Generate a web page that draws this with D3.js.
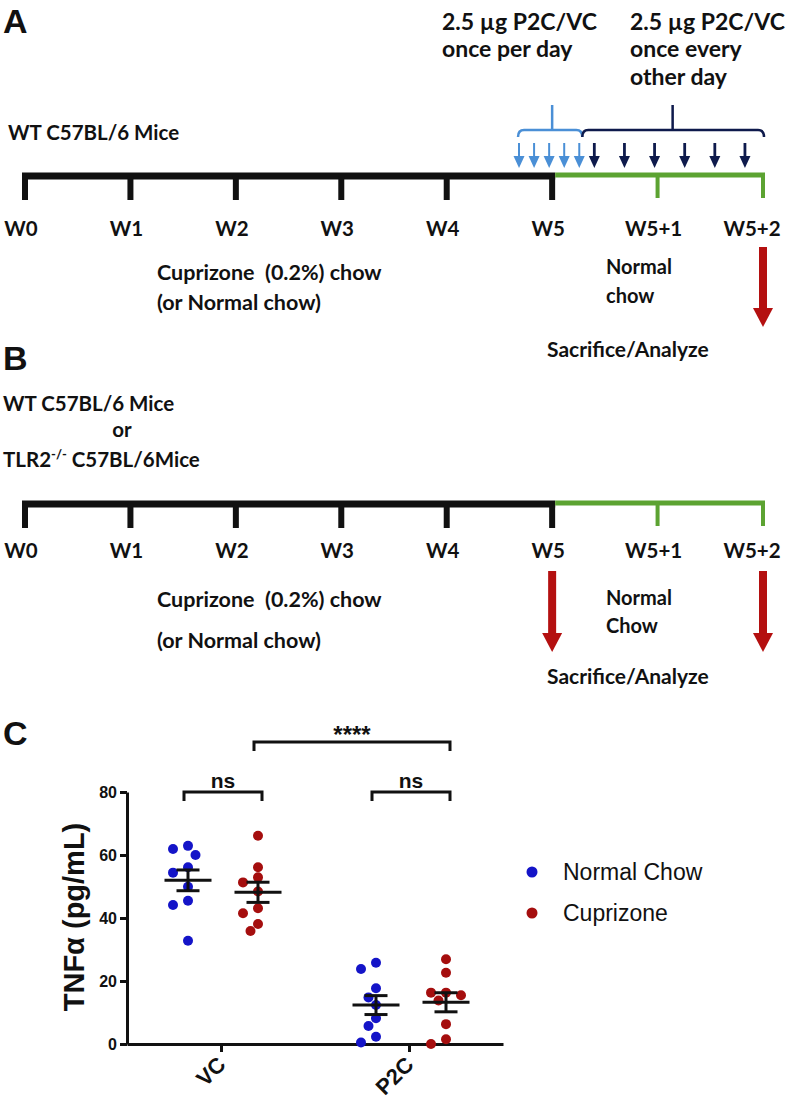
<!DOCTYPE html>
<html>
<head>
<meta charset="utf-8">
<script src="https://cdn.jsdelivr.net/npm/d3@7"></script>
<style>
  body { margin: 0; background: #fff; }
  svg { display: block; }
  .cal { font-family: Lato, "Open Sans", sans-serif; font-weight: bold; fill: #111; white-space: pre; }
  .arl { font-family: "Liberation Sans", Arial, sans-serif; fill: #111; }
</style>
</head>
<body>
<script>
// timeline (panels A and B)
var weeks = [0, 1, 2, 3, 4, 5, 6, 7];
var weekLabels = ["W0", "W1", "W2", "W3", "W4", "W5", "W5+1", "W5+2"];
var dailyDoseDays = [33, 34, 35, 36, 37];
var altDoseDays = [38, 40, 42, 44, 46, 48];

// TNFa scatter (panel C)
var groups = ["VC", "P2C"];
var seriesNames = ["Normal Chow", "Cuprizone"];
var vcNormal = [62.9, 61.9, 60.0, 56.1, 54.4, 49.9, 45.5, 44.1, 32.8];
var vcCuprizone = [66.1, 56.1, 52.9, 51.3, 48.4, 43.1, 41.5, 38.1, 35.9];
var p2cNormal = [25.8, 23.8, 17.7, 14.8, 12.4, 8.2, 5.7, 2.3, 0.5];
var p2cCuprizone = [26.9, 22.6, 16.3, 16.3, 15.5, 13.8, 6.3, 1.5, 0.0];
var yTicks = [0, 20, 40, 60, 80];

var colors = {"Normal Chow": "#1414c8", "Cuprizone": "#a50e0e"};
var W = 787, H = 1104;

var svg = d3.select("body").append("svg")
            .attr("width", W)
            .attr("height", H);

var wx = d3.scaleLinear().domain([0, 7]).range([25, 763]);
var dx = function(day) { return wx(day / 7); };

function redArrow(g, x, y1, y2) {
  g.append("rect")
   .attr("x", x - 4).attr("y", y1)
   .attr("width", 8).attr("height", y2 - y1 - 18)
   .attr("fill", "#b41010");
  g.append("path")
   .attr("d", "M" + (x - 10) + "," + (y2 - 19) + " L" + (x + 10) + "," + (y2 - 19) + " L" + x + "," + y2 + " Z")
   .attr("fill", "#b41010");
}

function timeline(g, lineY, labelY) {
  // black part
  g.append("line")
   .attr("x1", wx(0) - 3).attr("x2", wx(5) + 3)
   .attr("y1", lineY).attr("y2", lineY)
   .attr("stroke", "#111").attr("stroke-width", 7);
  g.selectAll("line.bt")
   .data(weeks.filter(function(d) { return d <= 5; }))
   .enter().append("line")
   .attr("class", "bt")
   .attr("x1", function(d) { return wx(d); })
   .attr("x2", function(d) { return wx(d); })
   .attr("y1", lineY).attr("y2", lineY + 24)
   .attr("stroke", "#111").attr("stroke-width", 6);
  // green part
  g.append("line")
   .attr("x1", wx(5) + 3).attr("x2", wx(7) + 2)
   .attr("y1", lineY - 1).attr("y2", lineY - 1)
   .attr("stroke", "#5ca332").attr("stroke-width", 5);
  g.selectAll("line.gt")
   .data(weeks.filter(function(d) { return d > 5; }))
   .enter().append("line")
   .attr("class", "gt")
   .attr("x1", function(d) { return wx(d); })
   .attr("x2", function(d) { return wx(d); })
   .attr("y1", lineY - 3).attr("y2", lineY + 22)
   .attr("stroke", "#5ca332").attr("stroke-width", 4);
  g.selectAll("text.wk")
   .data(weeks)
   .enter().append("text")
   .attr("class", "wk cal")
   .attr("x", function(d) { return Math.min(wx(d) - 4, 752); })
   .attr("y", labelY)
   .attr("text-anchor", "middle")
   .style("font-size", "20.5px")
   .text(function(d, i) { return weekLabels[i]; });
}

function label(g, x, y, txt, size, anchor) {
  return g.append("text")
          .attr("class", "cal")
          .attr("x", x).attr("y", y)
          .attr("text-anchor", anchor || "start")
          .style("font-size", size + "px")
          .text(txt);
}

// ---------- panel A ----------
var gA = svg.append("g");
gA.append("text").attr("class", "arl").attr("x", 3).attr("y", 33)
  .style("font-size", "34px").style("font-weight", "bold").text("A");
label(gA, 442, 30, "2.5 \u00b5g P2C/VC", 23);
label(gA, 442, 57, "once per day", 23);
label(gA, 630, 30, "2.5 \u00b5g P2C/VC", 23);
label(gA, 630, 57, "once every", 23);
label(gA, 630, 85, "other day", 23);
label(gA, 8, 140, "WT C57BL/6 Mice", 20.5);

function brace(g, x1, x2, xm, y, color) {
  g.append("path")
   .attr("d", "M" + x1 + "," + (y + 7) + " Q" + x1 + "," + y + " " + (x1 + 6) + "," + y +
              " L" + (x2 - 6) + "," + y + " Q" + x2 + "," + y + " " + x2 + "," + (y + 7) +
              " M" + xm + "," + y + " L" + xm + "," + (y - 25))
   .attr("fill", "none").attr("stroke", color).attr("stroke-width", 2.5);
}
brace(gA, dx(33) - 4, dx(37), dx(35), 130, "#4a8fd6");
brace(gA, dx(37), dx(49) + 1, dx(43), 130, "#0e1a4c");

function doseArrows(g, days, color, cls, w) {
  var a = g.selectAll("g." + cls)
           .data(days)
           .enter().append("g")
           .attr("class", cls)
           .attr("transform", function(d) { return "translate(" + (dx(d) - 3) + ",0)"; });
  a.append("line")
   .attr("x1", 0).attr("x2", 0).attr("y1", 143).attr("y2", 160)
   .attr("stroke", color).attr("stroke-width", w);
  a.append("path")
   .attr("d", "M-5.5,156 L5.5,156 L0,168 Z")
   .attr("fill", color);
}
doseArrows(gA, dailyDoseDays, "#4a8fd6", "da", 2);
doseArrows(gA, altDoseDays, "#0e1a4c", "aa", 2.8);

timeline(gA, 176, 236);
label(gA, 157, 280, "Cuprizone  (0.2%) chow", 21.5);
label(gA, 157, 310, "(or Normal chow)", 21.5);
label(gA, 606, 274, "Normal", 20);
label(gA, 606, 303, "chow", 20);
redArrow(gA, wx(7), 247, 327);
label(gA, 547, 357, "Sacrifice/Analyze", 21);

// ---------- panel B ----------
var gB = svg.append("g");
gB.append("text").attr("class", "arl").attr("x", 3).attr("y", 370)
  .style("font-size", "34px").style("font-weight", "bold").text("B");
label(gB, 3, 411, "WT C57BL/6 Mice", 20.5);
label(gB, 122, 437, "or", 20.5, "middle");
var tl = label(gB, 3, 467, "TLR2", 20.5);
tl.append("tspan").attr("dy", -8).style("font-size", "13px").text("-/-");
tl.append("tspan").attr("dy", 8).text(" C57BL/6Mice");

timeline(gB, 504, 558);
label(gB, 157, 607, "Cuprizone  (0.2%) chow", 21.5);
label(gB, 157, 648, "(or Normal chow)", 21.5);
label(gB, 606, 605, "Normal", 20);
label(gB, 606, 633, "Chow", 20);
redArrow(gB, wx(5), 571, 652);
redArrow(gB, wx(7), 571, 652);
label(gB, 547, 684, "Sacrifice/Analyze", 21);

// ---------- panel C ----------
var gC = svg.append("g");
gC.append("text").attr("class", "arl").attr("x", 3).attr("y", 745)
  .style("font-size", "34px").style("font-weight", "bold").text("C");

var y = d3.scaleLinear().domain([0, 80]).range([1044, 792]);
var x = d3.scalePoint().domain(groups).range([127, 503]).padding(0.5);
var xs = d3.scalePoint().domain(seriesNames).range([-33, 37]);

var yAxis = gC.append("g")
              .attr("transform", "translate(127,0)")
              .call(d3.axisLeft(y).tickValues(yTicks).tickSize(7).tickSizeOuter(0).tickPadding(3));
var xAxis = gC.append("g")
              .attr("transform", "translate(0,1044)")
              .call(d3.axisBottom(x).tickSize(8).tickSizeOuter(0).tickFormat(""));
[yAxis, xAxis].forEach(function(a) {
  a.select(".domain").attr("stroke", "#111").attr("stroke-width", 3);
  a.selectAll(".tick line").attr("stroke", "#111").attr("stroke-width", 3);
});
yAxis.selectAll(".tick text")
     .attr("class", "arl")
     .style("font-size", "16px").style("font-weight", "bold");

gC.selectAll("text.xl")
  .data(groups)
  .enter().append("text")
  .attr("class", "xl arl")
  .attr("text-anchor", "end")
  .attr("transform", function(d) { return "translate(" + (x(d) + 6) + ",1066) rotate(-45)"; })
  .style("font-size", "22px")
  .style("font-weight", "bold")
  .text(function(d) { return d; });

gC.append("text")
  .attr("class", "arl")
  .attr("transform", "translate(84,917) rotate(-90)")
  .attr("text-anchor", "middle")
  .style("font-size", "29px")
  .style("font-weight", "bold")
  .text("TNF\u03b1 (pg/mL)");

var sets = [
  {group: "VC", series: "Normal Chow", values: vcNormal},
  {group: "VC", series: "Cuprizone", values: vcCuprizone},
  {group: "P2C", series: "Normal Chow", values: p2cNormal},
  {group: "P2C", series: "Cuprizone", values: p2cCuprizone}
];

// simple beeswarm so points don't sit on each other
function swarm(vals, cx) {
  var placed = [], step = 7.5, minD = 10;
  var order = vals.map(function(v, i) { return i; })
                  .sort(function(a, b) { return vals[b] - vals[a]; });
  var out = [];
  order.forEach(function(i) {
    var py = y(vals[i]);
    for (var k = 0; k < 20; k++) {
      var off = (k == 0) ? 0 : ((k % 2) ? -1 : 1) * Math.ceil(k / 2) * step;
      var ok = placed.every(function(p) {
        return Math.hypot(p.x - (cx + off), p.y - py) >= minD;
      });
      if (ok) { placed.push({x: cx + off, y: py}); break; }
    }
    out.push({x: placed[placed.length - 1].x, y: py});
  });
  return out;
}

sets.forEach(function(s) {
  var cx = x(s.group) + xs(s.series);
  var pts = swarm(s.values, cx);
  gC.selectAll(null)
    .data(pts)
    .enter().append("circle")
    .attr("cx", function(d) { return d.x; })
    .attr("cy", function(d) { return d.y; })
    .attr("r", 5)
    .attr("fill", colors[s.series]);

  var m = d3.mean(s.values);
  var sem = d3.deviation(s.values) / Math.sqrt(s.values.length);
  var eb = gC.append("g").attr("stroke", "#111").attr("stroke-width", 3);
  eb.append("line").attr("x1", cx - 23.5).attr("x2", cx + 23.5).attr("y1", y(m)).attr("y2", y(m));
  eb.append("line").attr("x1", cx).attr("x2", cx).attr("y1", y(m + sem)).attr("y2", y(m - sem));
  eb.append("line").attr("x1", cx - 11.5).attr("x2", cx + 11.5).attr("y1", y(m + sem)).attr("y2", y(m + sem));
  eb.append("line").attr("x1", cx - 11.5).attr("x2", cx + 11.5).attr("y1", y(m - sem)).attr("y2", y(m - sem));
});

var brackets = [
  {g1: "VC", s1: "Normal Chow", g2: "VC", s2: "Cuprizone", top: 792, text: "ns", size: 21, ty: 788},
  {g1: "P2C", s1: "Normal Chow", g2: "P2C", s2: "Cuprizone", top: 792, text: "ns", size: 21, ty: 788},
  {g1: "VC", s1: "Cuprizone", g2: "P2C", s2: "Cuprizone", top: 742, text: "****", size: 24, ty: 743}
];
brackets.forEach(function(b) {
  var x1 = x(b.g1) + xs(b.s1) - 4, x2 = x(b.g2) + xs(b.s2) + 4;
  gC.append("path")
    .attr("d", "M" + x1 + "," + (b.top + 9) + " V" + b.top + " H" + x2 + " V" + (b.top + 9))
    .attr("fill", "none").attr("stroke", "#111").attr("stroke-width", 3);
  gC.append("text")
    .attr("class", "arl")
    .attr("x", (x1 + x2) / 2).attr("y", b.ty)
    .attr("text-anchor", "middle")
    .style("font-size", b.size + "px")
    .style("font-weight", "bold")
    .text(b.text);
});

var leg = gC.selectAll("g.leg")
            .data(seriesNames)
            .enter().append("g")
            .attr("class", "leg")
            .attr("transform", function(d, i) { return "translate(532," + (872 + i * 41) + ")"; });
leg.append("circle").attr("r", 5.5).attr("fill", function(d) { return colors[d]; });
leg.append("text")
   .attr("class", "arl")
   .attr("x", 31).attr("y", 8)
   .style("font-size", "23px")
   .text(function(d) { return d; });
</script>
</body>
</html>
